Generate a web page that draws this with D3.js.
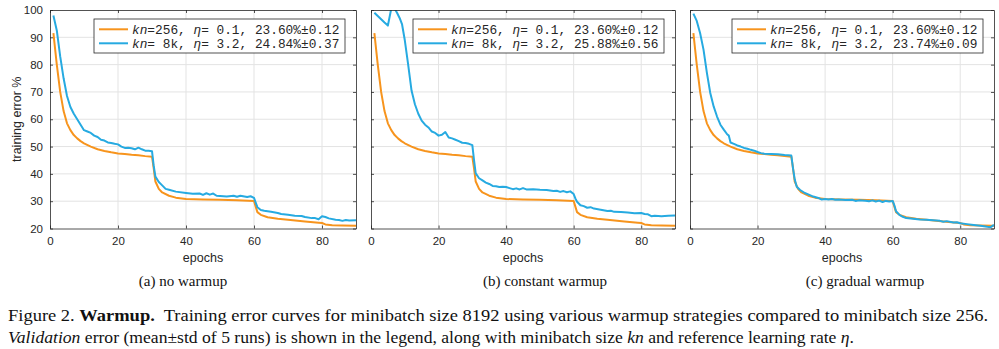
<!DOCTYPE html>
<html>
<head>
<meta charset="utf-8">
<script src="https://cdn.jsdelivr.net/npm/d3@7"></script>
<style>
  body { margin: 0; background: #fff; }
  svg { display: block; }
  text { white-space: pre; }
</style>
</head>
<body>
<svg id="chart" width="999" height="349"></svg>
<script>
// values: [epoch, training error %]
const epochTicks = [0, 20, 40, 60, 80];
const errTicks = [20, 30, 40, 50, 60, 70, 80, 90, 100];
const subCaptions = ['(a) no warmup', '(b) constant warmup', '(c) gradual warmup'];

const legendKn = ['256', ' 8k'];
const legendEta = [' 0.1', ' 3.2'];
const legendErr = [
  ['23.60%±0.12', '24.84%±0.37'],
  ['23.60%±0.12', '25.88%±0.56'],
  ['23.60%±0.12', '23.74%±0.09'],
];

const err256 = [
  [1, 91.5], [2, 80], [3, 70], [4, 63], [5, 58.5], [6, 56], [7, 54.2], [8, 53], [9, 52],
  [10, 51.2], [12, 50], [14, 49], [16, 48.4], [18, 47.9], [20, 47.5], [22, 47.3], [24, 47],
  [26, 46.8], [28, 46.5], [30, 46.3], [30.5, 42], [31, 37.2], [32, 34.5], [33, 33.2], [35, 32],
  [37, 31.3], [40, 30.8], [45, 30.6], [50, 30.5], [55, 30.3], [60, 30.1], [60.5, 28], [61, 26],
  [62, 25], [64, 24.1], [67, 23.6], [70, 23.2], [75, 22.6], [79, 22.1], [80, 22], [81, 21.5],
  [83, 21.2], [86, 21.1], [90, 21],
];

const err8kNoWarmup = [
  [1, 98], [2, 92.5], [3, 83], [4, 75], [5, 68.5], [6, 64.5], [7, 62], [8, 60], [9, 58], [10, 56],
  [11, 55.5], [12, 55], [13, 54], [14, 53.5], [15, 52.5], [16, 52.2], [17, 51.5], [18, 51.3],
  [19, 51], [20, 50.8], [21, 50], [22, 49.5], [23, 49.6], [24, 49.4], [25, 49], [26, 49.6],
  [27, 49], [28, 48.5], [29, 48.5], [30, 48.3], [30.5, 43], [31, 39], [32, 37], [33, 35.8],
  [34, 34.5], [35, 34.2], [37, 33.5], [40, 33], [42, 32.7], [44, 32.8], [45, 32.3], [46, 32.9],
  [47, 32.4], [48, 32.8], [49, 32], [50, 31.9], [52, 31.7], [54, 32], [55, 31.6], [56, 32],
  [58, 31.5], [59, 31.8], [60, 31.2], [60.5, 29.5], [61, 27.8], [62, 26.8], [63, 26.5],
  [65, 26.1], [67, 25.7], [68, 25.3], [70, 25], [72, 24.7], [74, 24.6], [75, 24.2], [77, 23.8],
  [78, 23.8], [79, 23.4], [80, 24.5], [81, 24.2], [82, 23.7], [84, 23.2], [85, 23.1], [86, 22.8],
  [87, 23.1], [88, 22.9], [90, 23],
];

const err8kConstant = [
  [1, 99], [2, 97.8], [3, 96.6], [4, 95.4], [5, 94.3], [6, 100.5], [7, 100.5], [7.7, 99],
  [8.5, 97], [9.2, 94.7], [10, 89], [11, 80], [12, 70.5], [13, 65.5], [14, 62], [15, 59.5],
  [16, 58], [17, 57], [18, 55.5], [19, 55], [20, 54], [21, 54.3], [22, 55.3], [23, 53.3],
  [24, 53], [25, 52.5], [26, 52], [27, 51.4], [28, 51.3], [29, 51], [30, 50.5], [30.5, 45],
  [31, 40.2], [32, 38.4], [33, 37.6], [34, 36.8], [35, 36.3], [36, 35.6], [37, 35.5], [38, 35.2],
  [39, 35.3], [40, 35.2], [41, 34.8], [42, 34.4], [43, 34.7], [44, 34.3], [45, 34.8], [46, 34.3],
  [48, 34.4], [50, 34.2], [52, 34.1], [54, 33.7], [55, 33.8], [56, 33.4], [57, 33.7], [58, 33.3],
  [59, 33.6], [60, 32.6], [60.5, 31], [61, 29.8], [62, 28.5], [63, 28.2], [64, 27.6], [65, 27.8],
  [66, 27.3], [68, 26.9], [70, 26.4], [71, 26.5], [72, 26.1], [74, 26], [76, 25.9], [78, 25.6],
  [80, 25.7], [81, 25.3], [82, 25.2], [83, 24.5], [84, 24.7], [86, 24.5], [88, 24.7], [90, 24.8],
];

const err8kGradual = [
  [1, 98.7], [2, 96], [3, 91.5], [4, 85.5], [5, 77], [6, 69.6], [7, 64.7], [8, 61], [9, 58],
  [10, 56.2], [11, 54.5], [11.5, 54], [12, 51.5], [13, 51], [14, 50.4], [15, 50], [16, 49.5],
  [17, 49.2], [18, 48.8], [19, 48.5], [20, 48], [21, 47.6], [22, 47.4], [24, 47.3], [26, 47.2],
  [28, 46.9], [30, 46.7], [30.5, 42], [31, 38], [31.6, 35.3], [32.6, 34.1], [34, 33], [35, 32.5],
  [36.5, 31.7], [38, 31.2], [39, 30.6], [40, 30.8], [41, 30.6], [42, 30.8], [43, 30.5], [44, 30.6],
  [46, 30.4], [48, 30.5], [49, 30.1], [50, 30.3], [52, 30.2], [53, 30], [54, 30.3], [55, 29.9],
  [56, 30.2], [57, 29.7], [58, 30.1], [59, 29.9], [60, 30.1], [60.5, 28.5], [61, 26.3], [62, 25],
  [63, 24.3], [64, 23.8], [66, 23.6], [68, 23.3], [70, 23.2], [72, 23], [74, 22.8], [75, 22.5],
  [76, 22.7], [78, 22.2], [79, 22.3], [80, 21.9], [82, 21.6], [84, 21.3], [86, 21], [88, 20.6],
  [89, 20.5], [90, 21.3],
];

const panels = [
  { left: 50, right: 356, small: err256, large: err8kNoWarmup, capX: 183 },
  { left: 371, right: 675, small: err256, large: err8kConstant, capX: 545 },
  { left: 690, right: 994, small: err256, large: err8kGradual, capX: 865 },
];

const plotTop = 10, plotBottom = 228.5;
const orange = '#f7941d', blue = '#26aae1';
const axisColor = '#262626', gridColor = '#e3e3e3';
const sans = 'Helvetica, Arial, "Liberation Sans", sans-serif';
const serif = '"Liberation Serif", "Times New Roman", serif';

const svg = d3.select('#chart');

const y = d3.scaleLinear().domain([20, 100]).range([plotBottom, plotTop]);

panels.forEach((p, pi) => {
  const x = d3.scaleLinear().domain([0, 90]).range([p.left, p.right]);
  const g = svg.append('g');

  // grid
  g.append('g')
    .selectAll('line')
    .data(epochTicks.filter((d) => d > 0))
    .join('line')
    .attr('x1', (d) => x(d)).attr('x2', (d) => x(d))
    .attr('y1', plotTop).attr('y2', plotBottom)
    .attr('stroke', gridColor).attr('stroke-width', 1);
  g.append('g')
    .selectAll('line')
    .data(errTicks.slice(1, -1))
    .join('line')
    .attr('x1', p.left).attr('x2', p.right)
    .attr('y1', (d) => y(d)).attr('y2', (d) => y(d))
    .attr('stroke', gridColor).attr('stroke-width', 1);

  // lines
  const clipId = 'clip' + pi;
  svg.append('clipPath').attr('id', clipId)
    .append('rect')
    .attr('x', p.left).attr('y', plotTop)
    .attr('width', p.right - p.left).attr('height', plotBottom - plotTop);

  const line = d3.line().x((d) => x(d[0])).y((d) => y(d[1]));
  const lines = g.append('g').attr('clip-path', `url(#${clipId})`);
  lines.append('path').datum(p.small)
    .attr('d', line).attr('fill', 'none')
    .attr('stroke', orange).attr('stroke-width', 2).attr('stroke-linejoin', 'round');
  lines.append('path').datum(p.large)
    .attr('d', line).attr('fill', 'none')
    .attr('stroke', blue).attr('stroke-width', 2).attr('stroke-linejoin', 'round');

  // axes with inward ticks on all four sides
  const xb = g.append('g').attr('transform', `translate(0,${plotBottom})`)
    .call(d3.axisBottom(x).tickValues(epochTicks).tickSizeInner(-3).tickSizeOuter(0).tickPadding(8));
  const xt = g.append('g').attr('transform', `translate(0,${plotTop})`)
    .call(d3.axisTop(x).tickValues(epochTicks).tickSizeInner(-3).tickSizeOuter(0).tickFormat(''));
  const yl = g.append('g').attr('transform', `translate(${p.left},0)`)
    .call(d3.axisLeft(y).tickValues(errTicks).tickSizeInner(-3).tickSizeOuter(0).tickPadding(7)
      .tickFormat(pi === 0 ? d3.format('d') : ''));
  const yr = g.append('g').attr('transform', `translate(${p.right},0)`)
    .call(d3.axisRight(y).tickValues(errTicks).tickSizeInner(-3).tickSizeOuter(0).tickFormat(''));

  [xb, xt, yl, yr].forEach((a) => {
    a.select('.domain').attr('stroke', axisColor).attr('stroke-width', 0.8);
    a.selectAll('.tick line').attr('stroke', axisColor).attr('stroke-width', 0.8);
    a.selectAll('.tick text')
      .attr('fill', axisColor)
      .style('font-family', sans)
      .style('font-size', '11.5px');
  });

  g.append('text')
    .attr('x', (p.left + p.right) / 2).attr('y', 261.5)
    .attr('text-anchor', 'middle')
    .attr('fill', axisColor)
    .style('font-family', sans)
    .style('font-size', '12.5px')
    .text('epochs');

  if (pi === 0) {
    g.append('text')
      .attr('transform', `translate(21,${(plotTop + plotBottom) / 2}) rotate(-90)`)
      .attr('text-anchor', 'middle')
      .attr('fill', axisColor)
      .style('font-family', sans)
      .style('font-size', '12.5px')
      .text('training error %');
  }

  // legend
  const lgW = 251, lgH = 34;
  const lgX = p.right - 11 - lgW, lgY = 19;
  const lg = g.append('g').attr('transform', `translate(${lgX},${lgY})`);
  lg.append('rect')
    .attr('width', lgW).attr('height', lgH)
    .attr('fill', '#fff').attr('stroke', axisColor).attr('stroke-width', 0.8);
  [orange, blue].forEach((c, k) => {
    const ry = 10.3 + k * 14;
    lg.append('line')
      .attr('x1', 5).attr('x2', 34).attr('y1', ry).attr('y2', ry)
      .attr('stroke', c).attr('stroke-width', 2);
    const t = lg.append('text')
      .attr('x', 38).attr('y', ry + 4.3)
      .attr('fill', axisColor)
      .style('font-family', '"Liberation Mono", "Courier New", monospace')
      .style('font-size', '12.8px');
    t.append('tspan').style('font-style', 'italic').text('kn');
    t.append('tspan').text('=' + legendKn[k] + ', ');
    t.append('tspan').style('font-style', 'italic').text('η');
    t.append('tspan').text('=' + legendEta[k] + ', ' + legendErr[pi][k]);
  });

  // sub caption
  svg.append('text')
    .attr('x', p.capX).attr('y', 286)
    .attr('text-anchor', 'middle')
    .attr('fill', '#111')
    .style('font-family', serif)
    .style('font-size', '15px')
    .text(subCaptions[pi]);
});

// figure caption
const cap1 = svg.append('text')
  .attr('x', 8).attr('y', 321)
  .attr('textLength', 980).attr('lengthAdjust', 'spacingAndGlyphs')
  .attr('fill', '#111')
  .style('font-family', serif).style('font-size', '16px');
cap1.append('tspan').text('Figure 2. ');
cap1.append('tspan').style('font-weight', 'bold').text('Warmup.');
cap1.append('tspan').text('  Training error curves for minibatch size 8192 using various warmup strategies compared to minibatch size 256.');

const cap2 = svg.append('text')
  .attr('x', 8).attr('y', 343)
  .attr('textLength', 846).attr('lengthAdjust', 'spacingAndGlyphs')
  .attr('fill', '#111')
  .style('font-family', serif).style('font-size', '16px');
cap2.append('tspan').style('font-style', 'italic').text('Validation');
cap2.append('tspan').text(' error (mean±std of 5 runs) is shown in the legend, along with minibatch size ');
cap2.append('tspan').style('font-style', 'italic').text('kn');
cap2.append('tspan').text(' and reference learning rate ');
cap2.append('tspan').style('font-style', 'italic').text('η');
cap2.append('tspan').text('.');
</script>
</body>
</html>
